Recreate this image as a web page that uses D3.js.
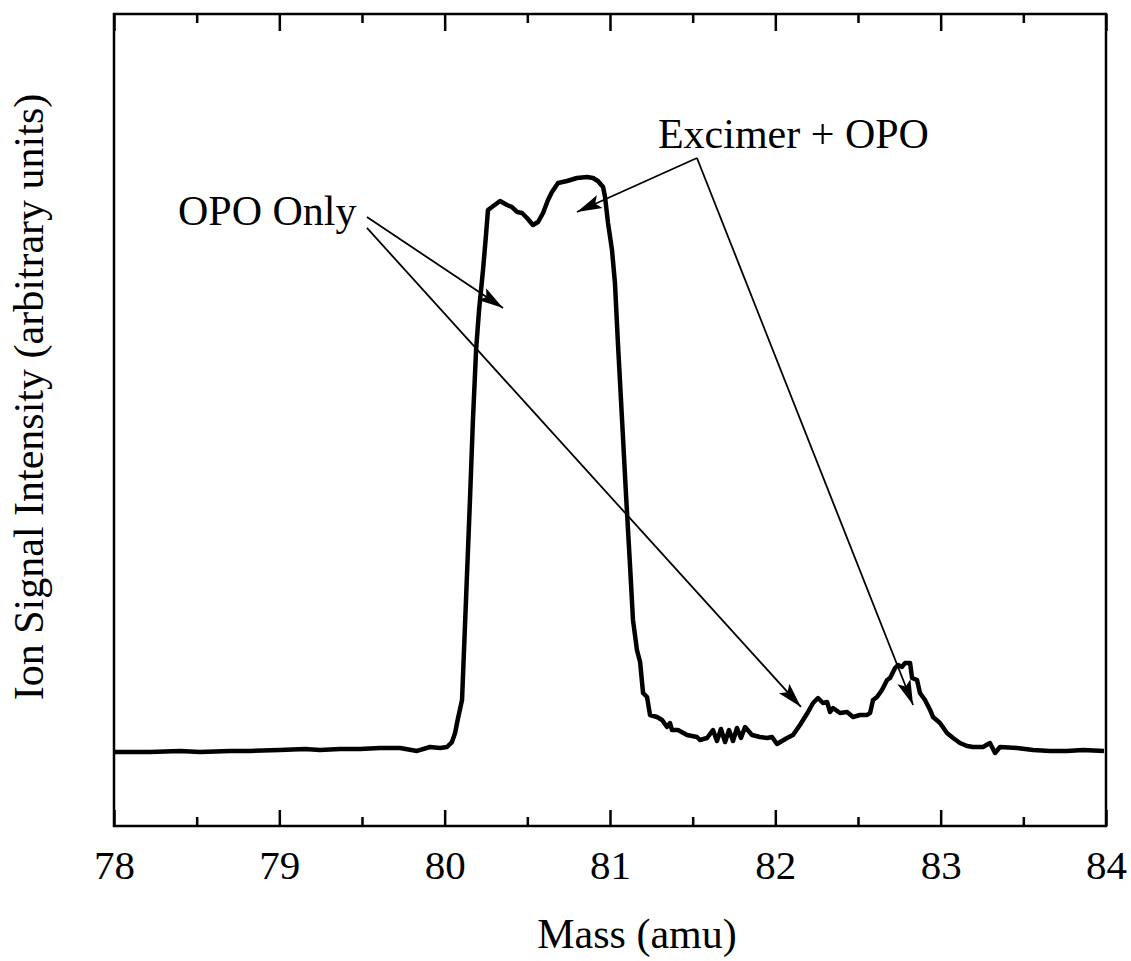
<!DOCTYPE html>
<html>
<head>
<meta charset="utf-8">
<script src="https://cdn.jsdelivr.net/npm/d3@7"></script>
<style>
  body { margin: 0; background: #fff; }
  text { font-family: "Liberation Serif", "Times New Roman", serif; fill: #000; }
</style>
</head>
<body>
<svg id="chart" width="1131" height="961"></svg>
<script>
// mass (amu)
const mass = [
  78.00, 78.218, 78.399, 78.520, 78.702, 78.823, 79.004, 79.155, 79.246, 79.367,
  79.488, 79.609, 79.730, 79.833, 79.911, 79.972, 80.014, 80.044, 80.063, 80.081,
  80.105, 80.129, 80.153, 80.171, 80.190, 80.208, 80.232, 80.250, 80.262, 80.286,
  80.335, 80.377, 80.407, 80.438, 80.468, 80.498, 80.534, 80.565, 80.595, 80.625,
  80.649, 80.686, 80.740, 80.800, 80.861, 80.897, 80.927, 80.958, 80.970, 80.988,
  81.012, 81.030, 81.048, 81.073, 81.097, 81.121, 81.139, 81.163, 81.182, 81.200,
  81.224, 81.242, 81.284, 81.315, 81.345, 81.363, 81.375, 81.411, 81.466, 81.526,
  81.544, 81.587, 81.623, 81.647, 81.671, 81.696, 81.720, 81.744, 81.768, 81.792,
  81.817, 81.859, 81.907, 81.950, 81.980, 82.010, 82.071, 82.107, 82.149, 82.198,
  82.228, 82.258, 82.288, 82.313, 82.331, 82.349, 82.391, 82.434, 82.470, 82.512,
  82.555, 82.573, 82.591, 82.615, 82.645, 82.676, 82.694, 82.724, 82.742, 82.766,
  82.784, 82.815, 82.827, 82.857, 82.875, 82.905, 82.936, 82.954, 82.996, 83.038,
  83.075, 83.117, 83.159, 83.196, 83.256, 83.298, 83.329, 83.359, 83.462, 83.559,
  83.661, 83.764, 83.861, 83.988
];

// ion signal (arbitrary units, 0-100 full scale)
const signal = [
  9.11, 9.11, 9.24, 9.11, 9.24, 9.24, 9.36, 9.48, 9.36, 9.48,
  9.48, 9.61, 9.61, 9.24, 9.73, 9.61, 9.73, 10.34, 11.45, 13.30,
  15.52, 27.83, 40.15, 50.00, 58.62, 63.55, 68.47, 72.78, 75.86, 76.23,
  76.97, 76.48, 76.23, 75.62, 75.49, 74.88, 74.01, 74.38, 75.49, 77.09,
  78.08, 79.19, 79.43, 79.80, 79.93, 79.80, 79.43, 78.69, 77.46, 74.26,
  70.94, 66.87, 59.48, 50.00, 40.76, 32.14, 25.37, 21.67, 20.20, 16.38,
  15.89, 13.67, 13.42, 13.05, 12.19, 12.68, 11.82, 11.82, 11.21, 10.96,
  10.59, 10.84, 11.82, 10.47, 11.95, 10.34, 11.82, 10.47, 12.07, 10.84,
  12.19, 11.21, 10.96, 10.84, 10.96, 10.10, 10.84, 11.21, 12.44, 14.04,
  15.15, 15.76, 15.15, 15.27, 14.04, 14.53, 13.92, 14.04, 13.42, 13.67,
  13.67, 13.92, 15.52, 15.89, 16.75, 17.98, 18.23, 19.46, 19.83, 19.58,
  20.07, 20.07, 18.23, 17.98, 16.38, 15.52, 14.29, 13.42, 12.68, 11.45,
  10.84, 10.22, 9.85, 9.73, 9.73, 10.22, 8.99, 9.73, 9.61, 9.36,
  9.24, 9.24, 9.36, 9.24
];

const majorTicks = [78, 79, 80, 81, 82, 83, 84];
const minorTicks = [78.5, 79.5, 80.5, 81.5, 82.5, 83.5];

// annotation labels and arrow end points, in data units
const labels = [
  { text: "OPO Only", m: 78.387, s: 74.0 },
  { text: "Excimer + OPO", m: 81.290, s: 83.5 }
];
const arrows = [
  { from: [79.530, 75.0], to: [80.353, 63.79] },
  { from: [79.530, 73.65], to: [82.155, 14.66] },
  { from: [81.526, 82.27], to: [80.800, 75.62] },
  { from: [81.526, 82.27], to: [82.833, 14.90] }
];

let svg = d3.select("#chart");
let plotLeft = 114, plotTop = 14, plotRight = 1106, plotBottom = 826;

let x = d3.scaleLinear().domain([78, 84]).range([plotLeft, plotRight]);
let y = d3.scaleLinear().domain([0, 100]).range([plotBottom, plotTop]);

// arrowhead
svg.append("defs").append("marker")
  .attr("id", "head")
  .attr("markerUnits", "userSpaceOnUse")
  .attr("viewBox", "-26 -8 28 16")
  .attr("refX", 0)
  .attr("refY", 0)
  .attr("markerWidth", 28)
  .attr("markerHeight", 16)
  .attr("orient", "auto")
  .append("path")
  .attr("d", "M0,0 L-25,-7 L-20,0 L-25,7 Z")
  .attr("fill", "#000");

// ticks: bottom and top, pointing inward
function styleAxis(g) {
  g.select(".domain").remove();
  g.selectAll(".tick line").attr("stroke", "#000").attr("stroke-width", 2.5);
}

svg.append("g")
  .attr("transform", "translate(0," + plotBottom + ")")
  .call(d3.axisBottom(x).tickValues(majorTicks).tickSize(-16).tickPadding(24).tickFormat(d3.format("d")))
  .call(styleAxis)
  .selectAll("text")
  .style("font-size", "41px")
  .style("font-family", "Liberation Serif");

svg.append("g")
  .attr("transform", "translate(0," + plotBottom + ")")
  .call(d3.axisBottom(x).tickValues(minorTicks).tickSize(-9).tickFormat(""))
  .call(styleAxis);

svg.append("g")
  .attr("transform", "translate(0," + plotTop + ")")
  .call(d3.axisTop(x).tickValues(majorTicks).tickSize(-17).tickFormat(""))
  .call(styleAxis);

svg.append("g")
  .attr("transform", "translate(0," + plotTop + ")")
  .call(d3.axisTop(x).tickValues(minorTicks).tickSize(-9).tickFormat(""))
  .call(styleAxis);

// frame
svg.append("rect")
  .attr("x", plotLeft)
  .attr("y", plotTop)
  .attr("width", plotRight - plotLeft)
  .attr("height", plotBottom - plotTop)
  .style("fill", "none")
  .style("stroke", "#000")
  .style("stroke-width", 2.5);

// trace
let points = mass.map((m, i) => [m, signal[i]]);
let line = d3.line()
  .x(d => x(d[0]))
  .y(d => y(d[1]));

svg.append("path")
  .datum(points)
  .attr("d", line)
  .style("fill", "none")
  .style("stroke", "#000")
  .style("stroke-width", 4.5)
  .style("stroke-linejoin", "round");

// annotations
svg.selectAll(".arrow")
  .data(arrows)
  .enter()
  .append("line")
  .attr("x1", d => x(d.from[0]))
  .attr("y1", d => y(d.from[1]))
  .attr("x2", d => x(d.to[0]))
  .attr("y2", d => y(d.to[1]))
  .attr("stroke", "#000")
  .attr("stroke-width", 1.8)
  .attr("marker-end", "url(#head)");

svg.selectAll(".note")
  .data(labels)
  .enter()
  .append("text")
  .attr("x", d => x(d.m))
  .attr("y", d => y(d.s))
  .style("font-size", "42px")
  .text(d => d.text);

// axis titles
svg.append("text")
  .attr("x", 637)
  .attr("y", 948)
  .style("text-anchor", "middle")
  .style("font-size", "42px")
  .text("Mass (amu)");

svg.append("text")
  .attr("transform", "translate(43,397) rotate(-90)")
  .style("text-anchor", "middle")
  .style("font-size", "42px")
  .text("Ion Signal Intensity (arbitrary units)");
</script>
</body>
</html>
